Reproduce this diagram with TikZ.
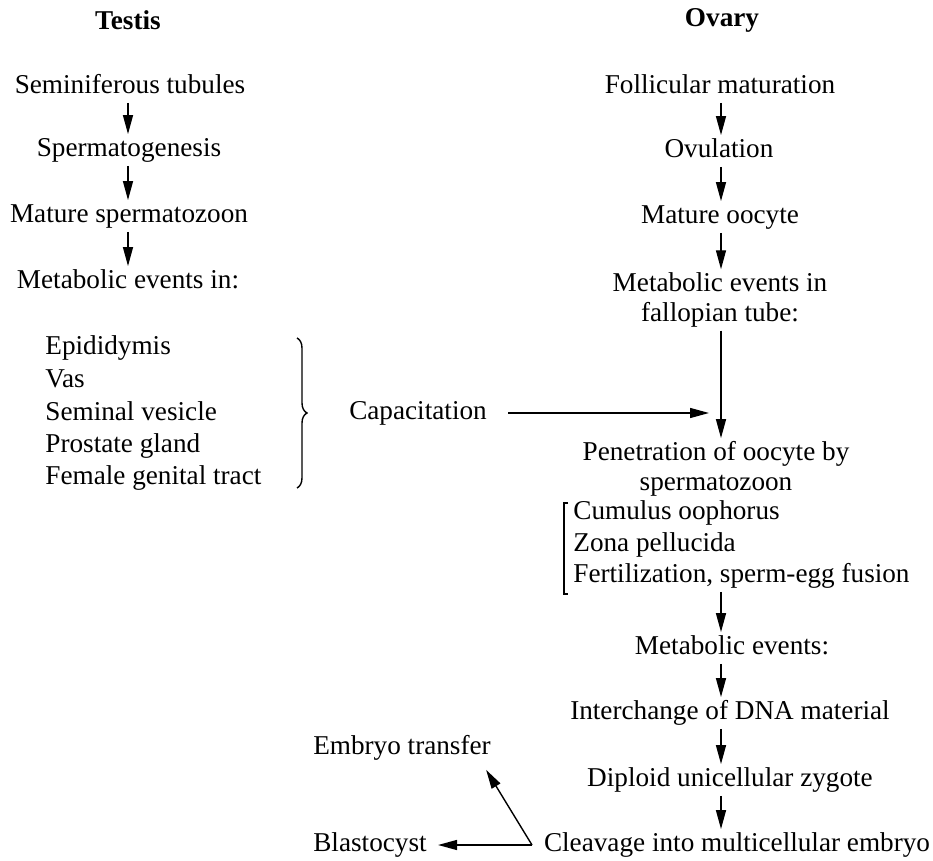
\documentclass[tikz,border=0pt]{standalone}
\usepackage{fontspec}
\setmainfont{Liberation Serif}
\usepackage{tikz}
\usetikzlibrary{arrows.meta, decorations.pathreplacing}
\tikzstyle{lbl}= [inner sep=1.5pt, text height=9.5pt, text depth=3pt]
\tikzstyle{twoline}= [inner sep=1.5pt, align=center]
\tikzstyle{hd}= [inner sep=1.5pt, font=\fontsize{13.6}{15}\selectfont\bfseries]
\tikzstyle{arr}= [-{Triangle[length=9.5pt,width=5pt]}, line width=0.7pt]

\begin{document}
\begin{tikzpicture}[x=0.5pt, y=-0.5pt, font=\fontsize{13.6}{15}\selectfont]
	\useasboundingbox (0,0) rectangle (933,861);
	\coordinate (laxis) at (128,0);
	\coordinate (raxis) at (721,0);
	% male side
	\node[hd] (testis) at (128,20) {Testis};
	\node[lbl] (semtub) at (130,87) {Seminiferous tubules};
	\node[lbl] (spgen) at (129,150) {Spermatogenesis};
	\node[lbl] (matsp) at (129,216) {Mature spermatozoon};
	\node[lbl] (metin) at (128,282) {Metabolic events in:};
	\node[lbl, anchor=west] (epid) at (42,348) {Epididymis};
	\node[lbl, anchor=west] (vas) at (42,381) {Vas};
	\node[lbl, anchor=west] (semves) at (42,414) {Seminal vesicle};
	\node[lbl, anchor=west] (prost) at (42,446) {Prostate gland};
	\node[lbl, anchor=west] (fgt) at (42,478) {Female genital tract};
	\coordinate (brtop) at (297,338);
	\coordinate (brbot) at (297,488);
	\node[lbl] (capac) at (418,413) {Capacitation};
	% female side
	\node[hd] (ovary) at (722,20) {Ovary};
	\node[lbl] (follic) at (720,87) {Follicular maturation};
	\node[lbl] (ovul) at (719,151) {Ovulation};
	\node[lbl] (matoo) at (720,217) {Mature oocyte};
	\node[twoline] (metfal) at (720,300) {Metabolic events in\\fallopian tube:};
	\node[twoline] (penet) at (716,469) {Penetration of oocyte by\\spermatozoon};
	\node[lbl, anchor=west] (cumul) at (570,513) {Cumulus oophorus};
	\node[lbl, anchor=west] (zona) at (570,545) {Zona pellucida};
	\node[lbl, anchor=west] (fert) at (570,576) {Fertilization, sperm-egg fusion};
	\coordinate (bktop) at (564,503);
	\coordinate (bkbot) at (564,594);
	\node[lbl] (metev) at (732,648) {Metabolic events:};
	\node[lbl] (dna) at (730,713) {Interchange of DNA material};
	\node[lbl] (zyg) at (730,780) {Diploid unicellular zygote};
	\node[lbl] (cleav) at (737,845) {Cleavage into multicellular embryo};
	\node[lbl] (etrans) at (402,748) {Embryo transfer};
	\node[lbl] (blast) at (370,845) {Blastocyst};
	\coordinate (fork) at (532,845);
	\coordinate (meet) at (709,413);

	\draw[arr](semtub.south -| laxis) -- (spgen.north -| laxis);
	\draw[arr](spgen.south -| laxis) -- (matsp.north -| laxis);
	\draw[arr](matsp.south -| laxis) -- (metin.north -| laxis);
	\draw[line width=0.7pt, decorate, decoration={brace, amplitude=5pt}](brtop) -- (brbot);
	\draw[arr, shorten <=9pt](capac) -- (meet);

	\draw[arr](follic.south -| raxis) -- (ovul.north -| raxis);
	\draw[arr](ovul.south -| raxis) -- (matoo.north -| raxis);
	\draw[arr](matoo.south -| raxis) -- (metfal.north -| raxis);
	\draw[arr](metfal.south -| raxis) -- (penet.north -| raxis);
	\draw[line width=0.7pt](bktop) ++(4,0) -- (bktop) -- (bkbot) -- ++(4,0);
	\draw[arr](fert.south -| raxis) -- (metev.north -| raxis);
	\draw[arr](metev.south -| raxis) -- (dna.north -| raxis);
	\draw[arr](dna.south -| raxis) -- (zyg.north -| raxis);
	\draw[arr](zyg.south -| raxis) -- (cleav.north -| raxis);
	\draw[arr, shorten >=4pt](fork) -- (blast);
	\draw[arr](fork) -- ([xshift=-4pt, yshift=-3pt]etrans.south east);
\end{tikzpicture}
\end{document}
